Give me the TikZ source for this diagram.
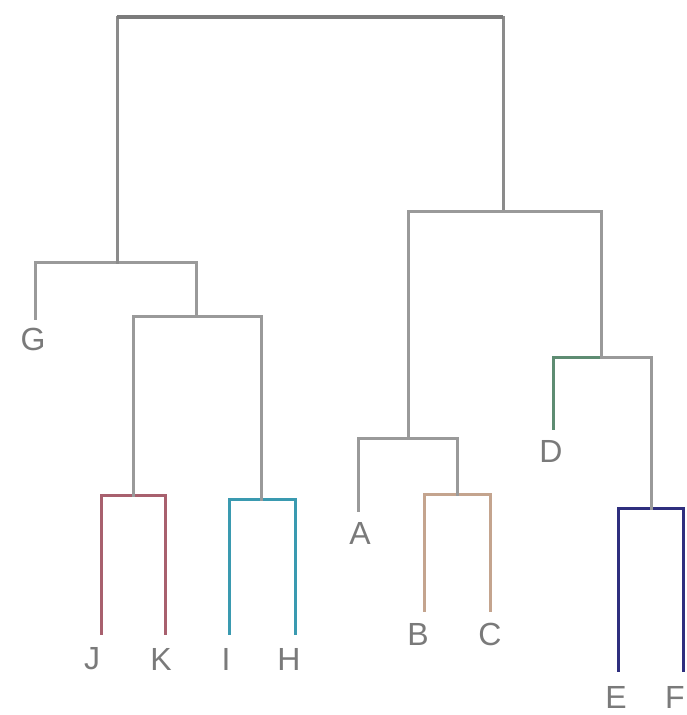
\documentclass[tikz,border=0pt]{standalone}
\usepackage{fontspec}
\setmainfont{Liberation Sans}
\definecolor{ln}{HTML}{9A9A9A}
\definecolor{lbl}{HTML}{7A7A7A}
\definecolor{cjk}{HTML}{A8606E}
\definecolor{cih}{HTML}{3A9AB0}
\definecolor{cbc}{HTML}{C4A48E}
\definecolor{cd}{HTML}{5E8C72}
\definecolor{cef}{HTML}{2E2E7E}
\begin{document}
\begin{tikzpicture}[x=1pt,y=-1pt,
  br/.style={line width=3pt,color=ln,line cap=rect},
  leaf/.style={font=\fontsize{32}{32}\selectfont,text=lbl,inner sep=0pt}]
\useasboundingbox[fill=white] (0,0) rectangle (686,715);
% labels
\node[leaf] (G) at (33,339) {G};
\node[leaf] (J) at (92,659) {J};
\node[leaf] (K) at (161,659) {K};
\node[leaf] (I) at (226,659) {I};
\node[leaf] (H) at (289,659) {H};
\node[leaf] (A) at (360,533) {A};
\node[leaf] (B) at (418,634) {B};
\node[leaf] (C) at (490,634) {C};
\node[leaf] (D) at (551,451) {D};
\node[leaf] (E) at (616,697) {E};
\node[leaf] (F) at (675,697) {F};
% leaf tops
\coordinate (Gt) at (35,318);
\coordinate (Jt) at (101,633);
\coordinate (Kt) at (165,633);
\coordinate (It) at (229,633);
\coordinate (Ht) at (295,633);
\coordinate (At) at (358,510);
\coordinate (Bt) at (424,610);
\coordinate (Ct) at (490,610);
\coordinate (Dt) at (553,428);
\coordinate (Et) at (618,670);
\coordinate (Ft) at (683,670);
% merge points
\coordinate (JK) at (133,495);
\coordinate (IH) at (261,499);
\coordinate (JKIH) at (196,316);
\coordinate (GJ) at (117,262);
\coordinate (BC) at (457,494);
\coordinate (ABC) at (408,438);
\coordinate (EF) at (651,508);
\coordinate (DEF) at (601,357);
\coordinate (R) at (503,211);
\coordinate (Root) at (310,17);
% coloured clusters
\draw[br,color=cjk] (Jt) -- (Jt|-JK) -- (Kt|-JK) -- (Kt);
\draw[br,color=cih] (It) -- (It|-IH) -- (Ht|-IH) -- (Ht);
\draw[br,color=cbc] (Bt) -- (Bt|-BC) -- (Ct|-BC) -- (Ct);
\draw[br,color=cef] (Et) -- (Et|-EF) -- (Ft|-EF) -- (Ft);
\draw[br,color=cd] (Dt) -- (Dt|-DEF) -- (DEF);
% grey links
\draw[br] (JK) -- (JK|-JKIH) -- (IH|-JKIH) -- (IH);
\draw[br] (Gt) -- (Gt|-GJ) -- (JKIH|-GJ) -- (JKIH);
\draw[br,color=ln!90!black] (GJ) -- (GJ|-Root) -- (R|-Root) -- (R);
\draw[br] (ABC) -- (ABC|-R) -- (DEF|-R) -- (DEF);
\draw[br] (At) -- (At|-ABC) -- (BC|-ABC) -- (BC);
\draw[br] (DEF) -- (EF|-DEF) -- (EF);
\draw[line width=4pt,color=ln!80!black] (GJ|-Root) -- (R|-Root);
\end{tikzpicture}
\end{document}
